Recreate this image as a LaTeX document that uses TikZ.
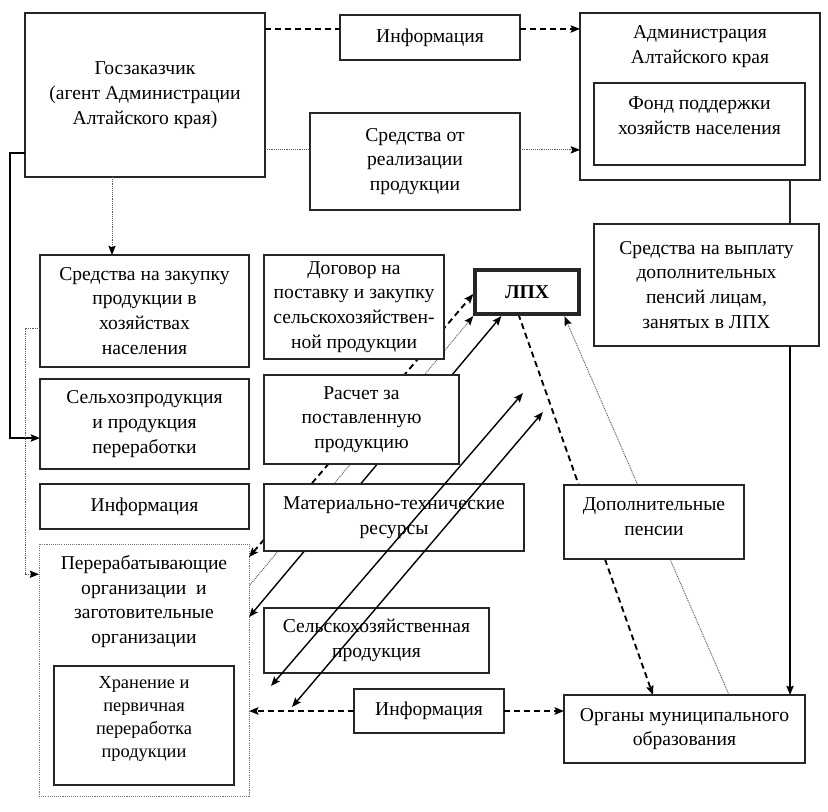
\documentclass[tikz,border=0pt]{standalone}
\usepackage{fontspec}
\setmainfont{Liberation Serif}
\usetikzlibrary{arrows.meta,calc,backgrounds}
\newcommand{\Bx}[7]{\node[#6,minimum width={(#4-#2)*0.75pt},minimum height={(#5-#3)*0.75pt}] (#1) at ({(#2+#4)/2},{(#3+#5)/2}) {#7};}
\begin{document}
\begin{tikzpicture}[x=0.75pt,y=-0.75pt,
  >={Stealth[length=7pt,width=5.5pt,inset=1.2pt,color=black]},
  mainfont/.style={font=\fontsize{14.7}{18.6}\selectfont},
  box/.style={draw=black!85,line width=0.9pt,fill=white,inner sep=0pt,outer sep=0pt,align=center,mainfont},
  txt/.style={inner sep=0pt,align=center,mainfont},
  smalltxt/.style={inner sep=0pt,align=center,font=\fontsize{13.8}{17.2}\selectfont},
  dotbox/.style={box,draw=black!55,dash pattern=on 0.8pt off 0.8pt,line width=0.7pt},
  thickbox/.style={box,line width=3.6pt,font=\bfseries\fontsize{14.7}{18.6}\selectfont},
  dsh/.style={line width=1.4pt,dash pattern=on 4.5pt off 3pt,black},
  dtt/.style={line width=0.7pt,black!65,dash pattern=on 0.7pt off 0.7pt},
  sld/.style={line width=1.05pt,black},
  thin/.style={line width=0.8pt,black!85},
]
\useasboundingbox (0,0) rectangle (828,812);

% boxes
\Bx{gz}{25}{13}{265}{177}{box}{Госзаказчик\\(агент Администрации\\Алтайского края)}
\Bx{inf1}{340}{15}{520}{60}{box}{Информация}
\Bx{sr}{310}{113}{520}{210}{box}{Средства от\\реализации\\продукции}
\Bx{adm}{580}{13}{820}{180}{box}{}
\node[txt] (admt) at (700,47) {Администрация\\Алтайского края};
\Bx{fond}{594}{83}{805}{165}{box}{}
\node[txt] (fondt) at (699.5,116) {Фонд поддержки\\хозяйств населения};
\Bx{zak}{40}{255}{249}{367}{box}{Средства на закупку\\продукции в\\хозяйствах\\населения}
\Bx{selx}{40}{379}{249}{469}{box}{Сельхозпродукция\\и продукция\\переработки}
\Bx{inf2}{40}{484}{249}{529}{box}{Информация}
\Bx{per}{39}{544}{249}{796}{dotbox}{}
\node[txt] (pert) at (144,601.5) {Перерабатывающие\\организации\ \ и\\заготовительные\\организации};
\Bx{hr}{54}{666}{234}{785}{box}{}
\node[smalltxt] (hrt) at (144,719) {Хранение и\\первичная\\переработка\\продукции};
\Bx{dog}{264}{255}{444}{359}{box}{Договор на\\поставку и закупку\\сельскохозяйствен-\\ной продукции}
\Bx{ras}{264}{375}{459}{464}{box}{Расчет за\\поставленную\\продукцию}
\Bx{mat}{264}{484}{524}{551}{box}{Материально-технические\\ресурсы}
\Bx{shp}{264}{608}{489}{673}{box}{Сельскохозяйственная\\продукция}
\Bx{inf3}{354}{689}{504}{733}{box}{Информация}
\Bx{lph}{475}{270}{579}{314}{thickbox}{ЛПХ}
\Bx{vyp}{594}{224}{819}{346}{box}{Средства на выплату\\дополнительных\\пенсий лицам,\\занятых в ЛПХ}
\Bx{dop}{564}{485}{744}{559}{box}{}
\node[txt] (dopt) at (654,517) {Дополнительные\\пенсии};
\Bx{org}{564}{695}{805}{763}{box}{Органы муниципального\\образования}

% top connectors
\coordinate (p1) at ($(inf1.north west)!0.31!(inf1.south west)$);
\draw[dsh] (gz.east |- p1) -- (p1);
\draw[dsh,->] ($(inf1.north east)!0.31!(inf1.south east)$) -- (adm.west |- p1);
\coordinate (p2) at ($(sr.north west)!0.38!(sr.south west)$);
\draw[dtt] (gz.east |- p2) -- (p2);
\draw[dtt,->] ($(sr.north east)!0.38!(sr.south east)$) -- (adm.west |- p2);
\coordinate (p3) at ($(gz.south west)!0.3625!(gz.south east)$);
\draw[dtt,->] (p3) -- (p3 |- zak.north);

% left side
\coordinate (p4) at ($(gz.north west)!0.854!(gz.south west)$);
\coordinate (p5) at ($(selx.north west)!0.656!(selx.south west)$);
\draw[sld,->] (p4) -- ++(-15,0) |- (p5);
\coordinate (p6) at ($(zak.north west)!0.66!(zak.south west)$);
\coordinate (p7) at ($(per.north west)!0.12!(per.south west)$);
\draw[dtt,->] (p6) -- ++(-15,0) |- (p7);

% right side
\coordinate (p8) at ($(adm.south west)!0.875!(adm.south east)$);
\draw[thin] (p8) -- (p8 |- vyp.north);
\draw[sld,->] (p8 |- vyp.south) -- (p8 |- org.north);

% bottom information
\draw[dsh,->] (inf3.west) -- (per.east |- inf3.west);
\draw[dsh,->] (inf3.east) -- (org.west |- inf3.east);

% lines passing behind boxes
\begin{scope}[on background layer]
\draw[dsh,<->,shorten >=2pt] ($(per.north east)!0.052!(per.south east)$) -- (lph.west);
\draw[dtt,->,shorten >=2pt] ($(per.north east)!0.167!(per.south east)$) -- (lph.south west);
\draw[sld,<->,shorten >=2pt] ($(per.north east)!0.29!(per.south east)$) -- ($(lph.south west)!0.27!(lph.south east)$);
\draw[dsh,->] ($(lph.south west)!0.417!(lph.south east)$) -- ($(org.north west)!0.369!(org.north east)$);
\draw[dtt,->,shorten >=2pt] ($(org.north west)!0.685!(org.north east)$) -- ($(lph.south west)!0.85!(lph.south east)$);
\end{scope}

% long arrows drawn over boxes
\coordinate (a1) at (271,686);
\coordinate (a2) at (523,393);
\coordinate (b1) at (292,707);
\coordinate (b2) at (543,412);
\draw[sld,<->] (a1) -- (a2);
\draw[sld,<->] (b1) -- (b2);
\end{tikzpicture}
\end{document}
